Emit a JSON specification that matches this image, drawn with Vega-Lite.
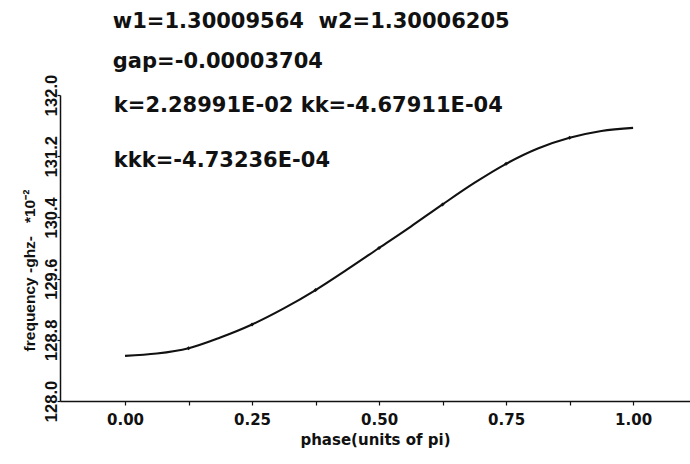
{
  "$schema": "https://vega.github.io/schema/vega-lite/v6.json",
  "autosize": {"type": "none"},
  "padding": {"left": 60, "top": 95, "right": 0, "bottom": 63},
  "width": 630,
  "height": 306,
  "background": "white",
  "config": {"view": {"stroke": null}},
  "datasets": {
    "curve": [
      {"phase": 0.0, "freq": 128.59},
      {"phase": 0.0625, "freq": 128.62},
      {"phase": 0.125, "freq": 128.69},
      {"phase": 0.1875, "freq": 128.83},
      {"phase": 0.25, "freq": 129.0},
      {"phase": 0.3125, "freq": 129.21},
      {"phase": 0.375, "freq": 129.45},
      {"phase": 0.4375, "freq": 129.72},
      {"phase": 0.5, "freq": 130.0},
      {"phase": 0.5625, "freq": 130.28},
      {"phase": 0.625, "freq": 130.57},
      {"phase": 0.6875, "freq": 130.85},
      {"phase": 0.75, "freq": 131.1},
      {"phase": 0.8125, "freq": 131.3},
      {"phase": 0.875, "freq": 131.44},
      {"phase": 0.9375, "freq": 131.53},
      {"phase": 1.0, "freq": 131.57}
    ],
    "markers": [
      {"phase": 0.125, "freq": 128.69},
      {"phase": 0.25, "freq": 129.0},
      {"phase": 0.375, "freq": 129.45},
      {"phase": 0.5, "freq": 130.0},
      {"phase": 0.625, "freq": 130.57},
      {"phase": 0.75, "freq": 131.1},
      {"phase": 0.875, "freq": 131.44}
    ],
    "notes": [
      {"phase": -0.024, "freq": 132.876, "label": "w1=1.30009564\u00a0\u00a0w2=1.30006205"},
      {"phase": -0.024, "freq": 132.353, "label": "gap=-0.00003704"},
      {"phase": -0.022, "freq": 131.778, "label": "k=2.28991E-02 kk=-4.67911E-04"},
      {"phase": -0.022, "freq": 131.059, "label": "kkk=-4.73236E-04"}
    ]
  },
  "encoding": {
    "x": {
      "field": "phase",
      "type": "quantitative",
      "scale": {"domain": [-0.128, 1.112], "nice": false, "zero": false},
      "axis": {
        "title": "phase(units of pi)",
        "values": [0, 0.125, 0.25, 0.375, 0.5, 0.625, 0.75, 0.875, 1.0],
        "labelExpr": "(round(datum.value*8) % 2 == 0) ? format(datum.value, '.2f') : ''",
        "grid": false,
        "domainColor": "#111",
        "domainWidth": 1.5,
        "tickColor": "#111",
        "tickSize": 4,
        "tickWidth": 1.2,
        "labelFont": "DejaVu Sans",
        "labelFontWeight": "bold",
        "labelFontSize": 15,
        "labelColor": "#111",
        "labelPadding": 7,
        "labelOverlap": false,
        "labelFlush": false,
        "titleFont": "DejaVu Sans",
        "titleFontWeight": "bold",
        "titleFontSize": 15,
        "titleColor": "#111",
        "titlePadding": 5
      }
    },
    "y": {
      "field": "freq",
      "type": "quantitative",
      "scale": {"domain": [128, 132], "nice": false, "zero": false},
      "axis": {
        "title": "frequency -ghz-\u00a0\u00a0\u00a0*10⁻²",
        "values": [128.0, 128.8, 129.6, 130.4, 131.2, 132.0],
        "format": ".1f",
        "grid": false,
        "domainColor": "#111",
        "domainWidth": 1.5,
        "tickColor": "#111",
        "tickSize": 3,
        "tickWidth": 1.2,
        "labelAngle": 270,
        "labelAlign": "center",
        "labelBaseline": "alphabetic",
        "labelPadding": 1,
        "labelFont": "Liberation Sans",
        "labelFontWeight": "bold",
        "labelFontSize": 16.5,
        "labelColor": "#111",
        "labelOverlap": false,
        "labelFlush": false,
        "labelBound": false,
        "titleFont": "Liberation Sans",
        "titleFontWeight": "bold",
        "titleFontSize": 15.5,
        "titleColor": "#111",
        "titlePadding": 6,
        "titleY": 175
      }
    }
  },
  "layer": [
    {
      "data": {"name": "curve"},
      "mark": {"type": "line", "color": "#111", "strokeWidth": 2.1, "interpolate": "monotone", "clip": false}
    },
    {
      "data": {"name": "markers"},
      "mark": {"type": "point", "filled": true, "color": "#111", "size": 16, "shape": "diamond", "opacity": 1}
    },
    {
      "data": {"name": "notes"},
      "mark": {"type": "text", "align": "left", "baseline": "alphabetic", "font": "DejaVu Sans", "fontWeight": "bold", "fontSize": 21, "color": "#111", "clip": false},
      "encoding": {"text": {"field": "label", "type": "nominal"}}
    }
  ]
}
